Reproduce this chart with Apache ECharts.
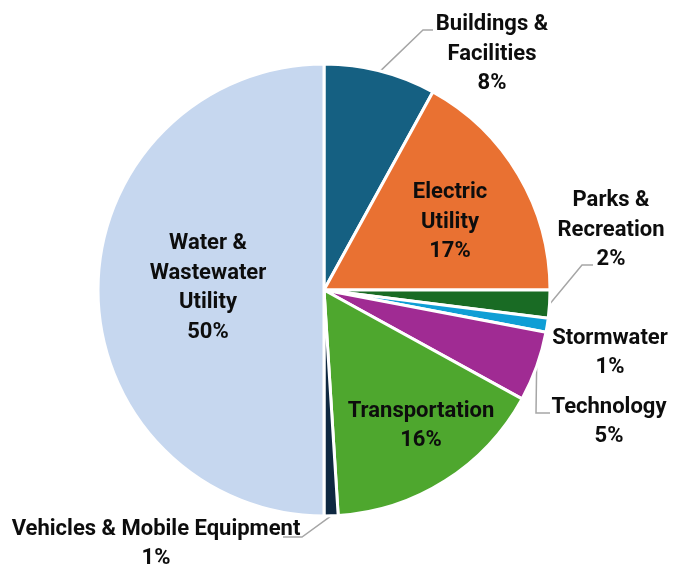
<!DOCTYPE html>
<html>
<head>
<meta charset="utf-8">
<script src="https://cdn.jsdelivr.net/npm/echarts@6/dist/echarts.min.js"></script>
<style>
  html, body { margin: 0; padding: 0; background: #ffffff; }
  #chart { width: 674px; height: 564px; }
</style>
</head>
<body>
<div id="chart"></div>
<script>
// Capital budget share by program area (percent of total)
const categories = [
  'Buildings &\nFacilities',
  'Electric\nUtility',
  'Parks &\nRecreation',
  'Stormwater',
  'Technology',
  'Transportation',
  'Vehicles & Mobile Equipment',
  'Water &\nWastewater\nUtility'
];
const shares = [8, 17, 2, 1, 5, 16, 1, 50];
const colors = ['#156082', '#E97132', '#196B24', '#0F9ED5', '#A02B93', '#4EA72E', '#0E2841', '#C6D7EF'];

// Label block centres and leader-line routing (end point on the label side, elbow offset)
const labelCentres = [
  [492, 54], [450, 222], [611, 230], [610, 353],
  [609, 422], [421, 426], [156, 544], [208, 288]
];
const leaderEnds = [
  [433, 30, -10], null, [593, 265, -11], null,
  [550, 413, -14], null, [283, 537, 19], null
];

const chart = echarts.init(document.getElementById('chart'), null, { renderer: 'canvas' });

const data = categories.map((name, i) => ({
  name: name,
  value: shares[i],
  itemStyle: { color: colors[i] },
  labelLine: { show: leaderEnds[i] !== null }
}));

chart.setOption({
  animation: false,
  series: [{
    type: 'pie',
    center: [324, 290],
    radius: 226,
    startAngle: 90,
    clockwise: true,
    avoidLabelOverlap: false,
    data: data,
    itemStyle: { borderColor: '#ffffff', borderWidth: 3 },
    label: {
      show: true,
      position: 'outside',
      formatter: p => p.name + '\n' + p.value + '%',
      fontFamily: 'Roboto',
      fontWeight: 'bold',
      fontSize: 22,
      lineHeight: 29.5,
      color: '#0d0d0d',
      align: 'center'
    },
    labelLine: {
      length: 10,
      length2: 10,
      lineStyle: { color: '#a6a6a6', width: 1.5 }
    },
    emphasis: { disabled: true },
    labelLayout: function (params) {
      const i = params.dataIndex;
      const c = labelCentres[i];
      const out = { x: c[0], y: c[1], align: 'center', verticalAlign: 'middle', hideOverlap: false, moveOverlap: null };
      const e = leaderEnds[i];
      if (e && params.labelLinePoints && params.labelLinePoints.length) {
        const s = params.labelLinePoints[0];
        out.labelLinePoints = [[s[0], s[1]], [e[0] + e[2], e[1]], [e[0], e[1]]];
      }
      return out;
    }
  }]
});
</script>
</body>
</html>
